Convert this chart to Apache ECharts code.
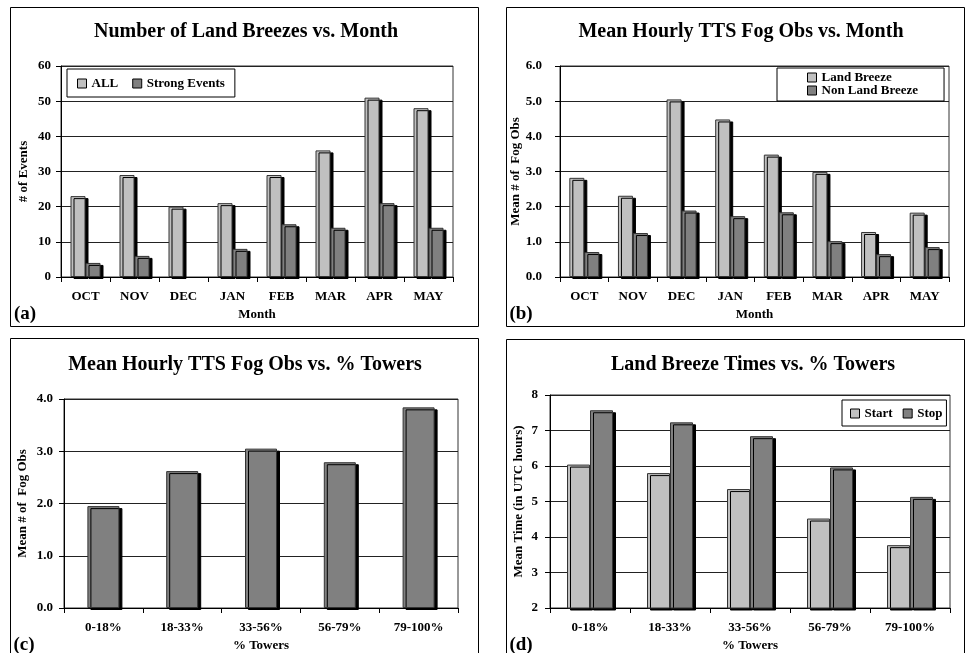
<!DOCTYPE html>
<html>
<head>
<meta charset="utf-8">
<script src="https://cdn.jsdelivr.net/npm/echarts@6/dist/echarts.min.js"></script>
<style>html,body{margin:0;padding:0;background:#fff}#c{width:966px;height:653px}</style>
</head>
<body>
<div id="c"></div>
<script>
// ---- Data ----
const months = ['OCT', 'NOV', 'DEC', 'JAN', 'FEB', 'MAR', 'APR', 'MAY'];
const towers = ['0-18%', '18-33%', '33-56%', '56-79%', '79-100%'];

// (a) Number of Land Breezes vs. Month
const breezesAll = [23, 29, 20, 21, 29, 36, 51, 48];
const breezesStrong = [4, 6, null, 8, 15, 14, 21, 14];

// (b) Mean Hourly TTS Fog Obs vs. Month
const fogLandBreeze = [2.82, 2.31, 5.05, 4.48, 3.48, 2.99, 1.28, 1.83];
const fogNonLandBreeze = [0.71, 1.25, 1.89, 1.73, 1.84, 1.02, 0.65, 0.85];

// (c) Mean Hourly TTS Fog Obs vs. % Towers
const fogByTowers = [1.95, 2.62, 3.05, 2.79, 3.84];

// (d) Land Breeze Times vs. % Towers
const startTimes = [6.04, 5.80, 5.35, 4.52, 3.77];
const stopTimes = [7.57, 7.23, 6.84, 5.96, 5.13];

// ---- Styling ----
const FONT = 'Liberation Serif';
const LIGHT = '#c0c0c0';
const DARK = '#808080';
const txt = { fontFamily: FONT, fontWeight: 'bold', fontSize: 13, color: '#000' };

function barStyle(color) {
  return {
    color: color, borderColor: '#333', borderWidth: 1,
    shadowColor: '#000', shadowBlur: 0, shadowOffsetX: 3, shadowOffsetY: 2
  };
}
function xAx(gi, cats, name) {
  return {
    type: 'category', gridIndex: gi, data: cats,
    axisLine: { show: true, lineStyle: { color: '#000', width: 1 } },
    axisTick: { show: true, length: 5, lineStyle: { color: '#000' } },
    axisLabel: Object.assign({ margin: 13 }, txt),
    name: name, nameLocation: 'middle', nameGap: 31, nameTextStyle: txt,
    splitLine: { show: false }
  };
}
function yAx(gi, min, max, interval, name, nameGap, labelMargin, fmt) {
  return {
    type: 'value', gridIndex: gi, min: min, max: max, interval: interval,
    axisLine: { show: true, lineStyle: { color: '#000', width: 1 } },
    axisTick: { show: true, length: 5, lineStyle: { color: '#000' } },
    axisLabel: Object.assign({ margin: labelMargin, formatter: fmt }, txt),
    splitLine: { show: true, lineStyle: { color: '#222', width: 1 } },
    name: name, nameLocation: 'middle', nameRotate: 90, nameGap: nameGap, nameTextStyle: txt
  };
}
const legendItemStyle = { borderColor: '#000', borderWidth: 1, shadowColor: 'rgba(0,0,0,0)', shadowOffsetX: 0, shadowOffsetY: 0 };
function legendBase(extra) {
  return Object.assign({
    icon: 'rect', itemWidth: 9, itemHeight: 9,
    borderColor: '#000', borderWidth: 1, backgroundColor: '#fff',
    textStyle: Object.assign({}, txt, { lineHeight: 12 }),
    itemStyle: legendItemStyle
  }, extra);
}
function gtext(x, y, text, size) {
  return { type: 'text', x: x, y: y, z: 10, style: { text: text, fontFamily: FONT, fontWeight: 'bold', fontSize: size, fill: '#000', align: 'center', verticalAlign: 'middle' } };
}
function frame(x, y, w, h) {
  return { type: 'rect', z: -1, shape: { x: x + 0.5, y: y + 0.5, width: w, height: h }, style: { fill: 'none', stroke: '#000', lineWidth: 1 } };
}

const fmt1 = v => v.toFixed(1);
const fmt0 = v => String(v);

const option = {
  backgroundColor: '#fff',
  animation: false,
  grid: [
    { left: 61, top: 66, width: 392, height: 211, show: true, borderColor: '#333', borderWidth: 1 },
    { left: 560, top: 66, width: 389, height: 211, show: true, borderColor: '#333', borderWidth: 1 },
    { left: 64, top: 399, width: 394, height: 209, show: true, borderColor: '#333', borderWidth: 1 },
    { left: 550, top: 395, width: 400, height: 213, show: true, borderColor: '#333', borderWidth: 1 }
  ],
  xAxis: [
    xAx(0, months, 'Month'),
    xAx(1, months, 'Month'),
    xAx(2, towers, '% Towers'),
    xAx(3, towers, '% Towers')
  ],
  yAxis: [
    yAx(0, 0, 60, 10, '# of Events', 31, 10, fmt0),
    yAx(1, 0, 6, 1, 'Mean # of  Fog Obs', 37, 18, fmt1),
    yAx(2, 0, 4, 1, 'Mean # of  Fog Obs', 35, 11, fmt1),
    yAx(3, 2, 8, 1, 'Mean Time (in UTC hours)', 25, 12, fmt0)
  ],
  legend: [
    legendBase({ data: ['ALL', 'Strong Events'], left: 67, top: 69, orient: 'horizontal', itemGap: 14, padding: [8, 10, 7, 10] }),
    legendBase({ data: ['Land Breeze', 'Non Land Breeze'], left: 777, top: 68, orient: 'vertical', itemGap: 0, padding: [3, 26, 4, 30] }),
    legendBase({ data: ['Start', 'Stop'], left: 842, top: 400, orient: 'horizontal', itemGap: 10, padding: [7, 4, 6, 8] })
  ],
  series: [
    { name: 'ALL', type: 'bar', xAxisIndex: 0, yAxisIndex: 0, data: breezesAll, barWidth: 15, barGap: '0%', itemStyle: barStyle(LIGHT) },
    { name: 'Strong Events', type: 'bar', xAxisIndex: 0, yAxisIndex: 0, data: breezesStrong, barWidth: 15, barGap: '0%', itemStyle: barStyle(DARK) },
    { name: 'Land Breeze', type: 'bar', xAxisIndex: 1, yAxisIndex: 1, data: fogLandBreeze, barWidth: 15, barGap: '0%', itemStyle: barStyle(LIGHT) },
    { name: 'Non Land Breeze', type: 'bar', xAxisIndex: 1, yAxisIndex: 1, data: fogNonLandBreeze, barWidth: 15, barGap: '0%', itemStyle: barStyle(DARK) },
    { name: 'Fog by Towers', type: 'bar', xAxisIndex: 2, yAxisIndex: 2, data: fogByTowers, barWidth: 32, itemStyle: barStyle(DARK) },
    { name: 'Start', type: 'bar', xAxisIndex: 3, yAxisIndex: 3, data: startTimes, barWidth: 23, barGap: '0%', itemStyle: barStyle(LIGHT) },
    { name: 'Stop', type: 'bar', xAxisIndex: 3, yAxisIndex: 3, data: stopTimes, barWidth: 23, barGap: '0%', itemStyle: barStyle(DARK) }
  ],
  graphic: [
    frame(10, 7, 468, 319),
    frame(506, 7, 458, 319),
    frame(10, 338, 468, 320),
    frame(506, 339, 458, 320),
    gtext(246, 32, 'Number of Land Breezes vs. Month', 20),
    gtext(741, 32, 'Mean Hourly TTS Fog Obs vs. Month', 20),
    gtext(245, 365, 'Mean Hourly TTS Fog Obs vs. % Towers', 20),
    gtext(753, 365, 'Land Breeze Times vs. % Towers', 20),
    gtext(25, 314, '(a)', 19),
    gtext(521, 314, '(b)', 19),
    gtext(24, 645, '(c)', 19),
    gtext(521, 645, '(d)', 19)
  ]
};

const chart = echarts.init(document.getElementById('c'), null, { renderer: 'canvas' });
chart.setOption(option);
</script>
</body>
</html>
